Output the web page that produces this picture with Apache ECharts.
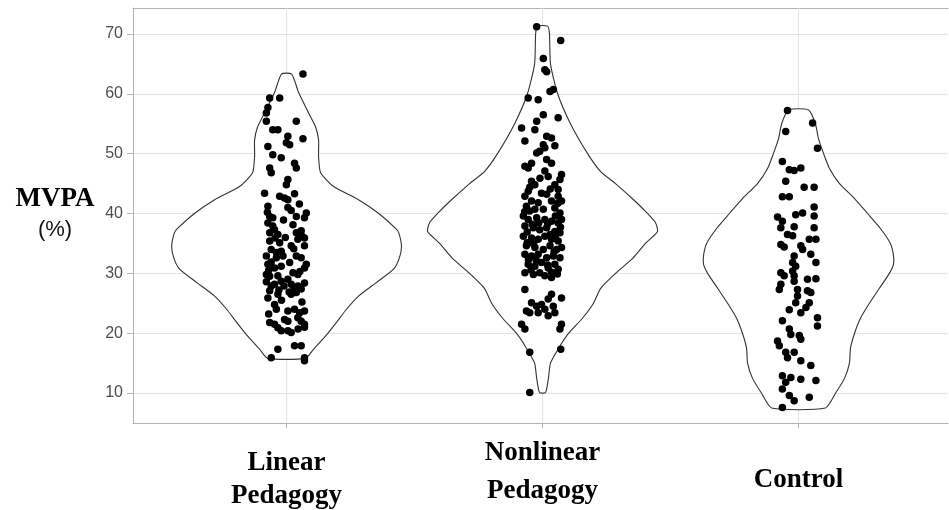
<!DOCTYPE html>
<html><head><meta charset="utf-8">
<script src="https://cdn.jsdelivr.net/npm/echarts@6/dist/echarts.min.js"></script>
<style>html,body{margin:0;padding:0;background:#fff}#c{width:949px;height:510px}</style>
</head><body><div id="c"></div>
<script>
// ---- data ----
const categories = ['Linear\nPedagogy', 'Nonlinear\nPedagogy', 'Control'];
const yTicks = [10, 20, 30, 40, 50, 60, 70];
const yMin = 5, yMax = 74.33;
const xMin = 0.4, xMax = 3.584;

// violin outlines: [MVPA value, half width in category units]
const violinLinear = [[15.8,0.074],[17.3,0.105],[19.5,0.152],[21.8,0.195],[24,0.234],[26.2,0.281],[28.5,0.352],[30.7,0.418],[32.5,0.44],[34.5,0.449],[36.8,0.438],[37.5,0.426],[40,0.36],[42.3,0.281],[44.5,0.184],[46.8,0.133],[49.5,0.125],[52.3,0.125],[54.5,0.113],[56.8,0.086],[60.2,0.047],[63.3,0.02]];
const violinNonlinear = [[10.1,0.012],[12.5,0.023],[15,0.031],[17.5,0.063],[20,0.102],[22.5,0.156],[25,0.199],[27.5,0.227],[30,0.285],[32.5,0.352],[35,0.402],[37,0.449],[38.5,0.441],[40,0.41],[42,0.363],[45,0.285],[47,0.227],[50,0.176],[55,0.109],[60,0.059],[65,0.031],[70,0.027],[71.3,0.02]];
const violinControl = [[7.5,0.105],[10,0.145],[12.5,0.18],[15,0.199],[17.5,0.203],[20,0.219],[22.5,0.242],[25,0.277],[27.5,0.316],[30,0.355],[31.5,0.371],[33,0.371],[35,0.359],[37.5,0.32],[40,0.27],[42.5,0.219],[45,0.16],[47.5,0.121],[50,0.098],[52.5,0.078],[55,0.066],[57.3,0.039]];

// jittered observations: [horizontal jitter (category units), MVPA %]
const pointsLinear = [[0.064,63.3],[-0.066,59.3],[-0.027,59.3],[-0.073,57.7],[-0.079,56.8],[-0.079,55.4],[0.038,55.4],[-0.054,54],[-0.034,54],[0.005,52.9],[0.064,52.5],[-0.001,51.8],[0.012,51.5],[-0.073,51.2],[-0.054,49.8],[-0.021,49.3],[0.031,48.4],[0.038,47.6],[-0.066,47.6],[-0.06,46.8],[0.005,45.7],[-0.001,44.8],[-0.086,43.4],[-0.027,42.9],[-0.008,42.6],[0.005,42.3],[0.031,43.3],[-0.073,41.2],[0.005,41],[0.018,40.5],[-0.066,39.5],[-0.054,39.3],[0.077,40.1],[0.07,39.3],[0.038,39.5],[-0.073,38.4],[-0.054,37.9],[0.057,37.1],[0.038,36.8],[-0.066,36.8],[-0.034,36.5],[-0.047,37.3],[0.07,35.9],[0.044,35.7],[-0.066,35.4],[-0.027,35.1],[0.018,34.6],[0.07,34.6],[-0.06,34],[-0.021,33.7],[-0.079,32.9],[-0.04,32.6],[-0.014,32.9],[0.038,32.9],[0.057,32.6],[-0.073,31.5],[-0.047,30.9],[-0.021,31.2],[0.077,31.5],[0.07,30.9],[0.025,30.1],[0.044,29.8],[-0.079,29.8],[-0.066,29.5],[-0.034,29.6],[0.005,29],[0.018,28.2],[-0.079,28.6],[-0.06,27.9],[-0.047,28.2],[-0.021,28.7],[0.07,28.4],[0.044,27.9],[0.057,27.4],[-0.066,27.1],[-0.034,26.5],[0.018,26.5],[0.038,26.8],[-0.073,25.9],[-0.047,24.8],[-0.04,24],[0.005,23.7],[0.031,24],[0.051,23.4],[0.07,23.7],[-0.008,22.3],[0.005,22],[0.044,22.6],[0.057,22],[-0.066,21.8],[-0.047,21.5],[-0.034,20.9],[0.07,21.5],[0.07,21],[-0.021,20.4],[0.005,20.4],[0.018,20.1],[0.031,17.9],[0.057,17.9],[-0.034,17.3],[-0.06,15.9],[0.07,15.9],[0.07,15.4],[-0.012,38.9],[0.025,38.1],[-0.005,36],[0.06,36.2],[-0.04,33.5],[0.012,31.8],[-0.06,31.9],[0.03,27.5],[-0.01,27.9],[0.06,25.2],[-0.02,25.5],[-0.075,40.2],[0.05,41.6],[-0.045,35.9],[0.028,34.1],[-0.07,30.5],[0.052,30.3],[-0.03,27.2],[0.01,26.9],[-0.07,23.2],[0.045,20.7]];
const pointsNonlinear = [[-0.023,71.2],[0.071,68.9],[0.003,65.9],[0.009,64],[0.016,63.7],[0.042,60.7],[0.029,60.4],[-0.056,59.3],[-0.017,59],[0.061,56],[0.003,56.5],[-0.082,54.3],[-0.023,55.4],[-0.03,54],[0.016,52.9],[0.035,52.6],[-0.069,52.1],[0.003,51.5],[0.009,51],[0.048,51.3],[-0.023,50.1],[-0.011,50.4],[0.016,49],[0.035,48.4],[-0.069,47.9],[-0.056,47.6],[-0.043,48.4],[0.074,46.5],[0.068,45.7],[0.009,47.1],[0.022,46.2],[-0.043,45.4],[-0.03,44.8],[0.048,44.8],[0.061,44],[-0.056,43.7],[-0.069,42.9],[-0.004,43.4],[0.016,43.2],[0.061,42.9],[0.074,42.1],[-0.043,42.1],[-0.017,41.8],[0.035,42.1],[-0.063,41.2],[-0.05,40.4],[-0.03,40.7],[0.003,40.7],[0.048,40.9],[0.068,40.1],[-0.075,39.6],[-0.056,39],[-0.023,39.3],[0.009,39],[0.035,38.7],[0.061,38.4],[0.074,39],[-0.069,37.9],[-0.036,37.6],[-0.011,37.3],[0.016,37.6],[0.048,37],[0.068,36.8],[-0.075,36.2],[-0.043,35.9],[-0.017,35.7],[0.009,36.2],[0.035,35.7],[0.061,35.4],[-0.063,34.6],[-0.03,34.3],[0.003,34],[0.029,34.6],[0.055,34],[0.074,34.3],[-0.069,33.2],[-0.043,32.9],[-0.017,33.2],[0.016,32.6],[0.042,32.9],[0.068,32.6],[-0.056,31.5],[-0.03,31.2],[-0.004,31.8],[0.022,30.9],[0.048,31.5],[0.061,30.7],[-0.069,30.1],[-0.036,29.8],[-0.011,30.1],[0.009,29.6],[0.035,29.3],[-0.069,27.3],[0.035,26.5],[0.022,25.7],[0.074,25.9],[-0.043,25.1],[-0.023,24.5],[-0.004,24.8],[-0.063,23.7],[-0.05,23.4],[-0.017,23.4],[0.009,24],[0.042,24.5],[0.048,23.4],[0.022,22.9],[-0.082,21.5],[-0.069,20.7],[0.074,21.5],[0.068,20.7],[-0.05,16.8],[0.071,17.3],[-0.05,10.1],[-0.05,44.4],[0.03,44.1],[-0.01,45.9],[0.05,39.6],[-0.04,38.2],[0.02,38.3],[-0.06,35.1],[0.045,33.6],[-0.025,32.2],[0.058,29.9],[-0.045,30.6],[0.02,31.4],[-0.07,40.3],[0.07,37.7],[-0.06,36.9],[0.03,36.5],[-0.035,34.9],[0.05,35.9],[-0.015,38.4],[0.06,41.7],[-0.055,32.3],[0.035,30.2]];
const pointsControl = [[-0.043,57.2],[0.055,55.1],[-0.05,53.7],[0.074,50.9],[-0.063,48.7],[-0.036,47.3],[-0.017,47.2],[0.009,47.6],[-0.05,45.4],[0.022,44.4],[0.061,44.4],[-0.063,42.8],[-0.036,42.8],[0.061,41.1],[0.016,40.1],[-0.011,39.8],[-0.082,39.4],[-0.063,38.7],[0.061,39.6],[-0.069,37.6],[-0.017,37.8],[0.061,37.6],[-0.043,36.5],[-0.023,36.3],[0.042,35.7],[0.068,35.7],[-0.069,34.8],[-0.056,34.4],[0.009,34.6],[0.016,34],[0.048,33.2],[-0.017,32.9],[-0.023,31.8],[-0.011,31.2],[0.068,31.8],[-0.069,30.1],[-0.056,29.6],[-0.023,30.4],[-0.017,29.6],[0.068,29.1],[0.035,29],[-0.069,28.2],[-0.075,27.3],[-0.017,28.7],[-0.004,27.3],[0.035,27.1],[0.048,26.8],[-0.004,26.2],[-0.011,25.1],[0.042,25.1],[0.029,24.3],[-0.036,23.9],[0.009,23.4],[0.074,22.6],[0.074,21.2],[-0.063,22.1],[-0.036,20.7],[-0.03,19.8],[0.003,19.6],[0.009,19],[-0.082,18.7],[-0.075,17.9],[-0.05,16.8],[-0.043,15.9],[-0.017,16.8],[0.009,15.4],[0.048,14.6],[-0.063,12.9],[-0.03,12.6],[-0.05,11.8],[-0.063,10.7],[0.009,12.3],[0.068,12.1],[-0.036,9.6],[-0.017,8.7],[0.042,9.3],[-0.063,7.6]];

const violins = [violinLinear, violinNonlinear, violinControl];
const pointSets = [pointsLinear, pointsNonlinear, pointsControl];

// ---- chart ----
const chart = echarts.init(document.getElementById('c'));
const labelStyles = ['a', 'b', 'c'];
const serifBold = { fontFamily: 'Liberation Serif', fontWeight: 'bold', fontSize: 27, color: '#000' };
const borderColor = '#b3b3b3';
const gridColor = '#e3e3e3';

const scatterData = [];
pointSets.forEach((set, i) => set.forEach(p => scatterData.push([i + 1 + p[0], p[1]])));

chart.setOption({
  animation: false,
  backgroundColor: '#fff',
  grid: { left: 133, top: 8, right: 1, height: 416, show: false },
  xAxis: [{
    type: 'value', min: xMin, max: xMax, position: 'bottom',
    axisLine: { show: true, lineStyle: { color: borderColor, width: 1 } },
    splitLine: { show: false },
    axisTick: { show: true, customValues: [1, 2, 3], length: 5, lineStyle: { color: borderColor } },
    axisLabel: {
      customValues: [1, 2, 3], margin: 11,
      formatter: v => {
        const i = Math.round(v) - 1;
        const st = labelStyles[i];
        const lines = categories[i].split('\n').map(t => '{' + st + '|' + t + '}');
        if (i === 1) return lines.join('\n');
        return '{s|.}\n' + lines.join('\n');
      },
      rich: {
        s: { fontSize: 1, lineHeight: 13, color: 'rgba(0,0,0,0)' },
        a: Object.assign({ lineHeight: 33 }, serifBold),
        b: Object.assign({ lineHeight: 38 }, serifBold),
        c: Object.assign({ lineHeight: 66 }, serifBold)
      }
    }
  }, {
    type: 'value', min: xMin, max: xMax, position: 'top',
    axisLine: { show: true, lineStyle: { color: borderColor, width: 1 } },
    axisTick: { show: false }, axisLabel: { show: false }, splitLine: { show: false }
  }],
  yAxis: {
    type: 'value', min: yMin, max: yMax, interval: 5,
    axisLine: { show: true, lineStyle: { color: borderColor, width: 1 } },
    axisTick: { show: true, customValues: yTicks, length: 6, lineStyle: { color: borderColor } },
    axisLabel: { customValues: yTicks, color: '#4d4d4d', fontSize: 16, fontFamily: 'Liberation Sans', margin: 10 },
    splitLine: { show: true, lineStyle: { color: gridColor, width: 1 } }
  },
  graphic: [
    { type: 'text', x: 55, y: 199, style: { text: 'MVPA', font: 'bold 27px "Liberation Serif"', fill: '#000', align: 'center', verticalAlign: 'middle', textAlign: 'center', textVerticalAlign: 'middle' } },
    { type: 'text', x: 55, y: 230, style: { text: '(%)', font: '22px "Liberation Sans"', fill: '#111', align: 'center', verticalAlign: 'middle', textAlign: 'center', textVerticalAlign: 'middle' } }
  ],
  series: [
    {
      type: 'custom', z: 1, silent: true,
      data: [[1], [2], [3]],
      renderItem: (params, api) => {
        const x = api.value(0);
        const a = api.coord([x, yMin]), b = api.coord([x, yMax]);
        return { type: 'line', shape: { x1: a[0], y1: a[1], x2: b[0], y2: b[1] }, style: { stroke: gridColor, lineWidth: 1 } };
      }
    },
    {
      type: 'custom', z: 2, silent: true,
      data: [[1], [2], [3]],
      renderItem: (params, api) => {
        const x = api.value(0);
        const prof = violins[params.dataIndex];
        const pts = [];
        prof.forEach(p => pts.push(api.coord([x + p[1], p[0]])));
        for (let k = prof.length - 1; k >= 0; k--) pts.push(api.coord([x - prof[k][1], prof[k][0]]));
        return { type: 'polygon', shape: { points: pts, smooth: 0.2 }, style: { fill: '#fff', stroke: '#333', lineWidth: 1.1 } };
      }
    },
    {
      type: 'scatter', z: 3, silent: true,
      symbol: 'circle', symbolSize: 7.5,
      itemStyle: { color: '#000', opacity: 1 },
      data: scatterData
    }
  ]
});
</script>
</body></html>
